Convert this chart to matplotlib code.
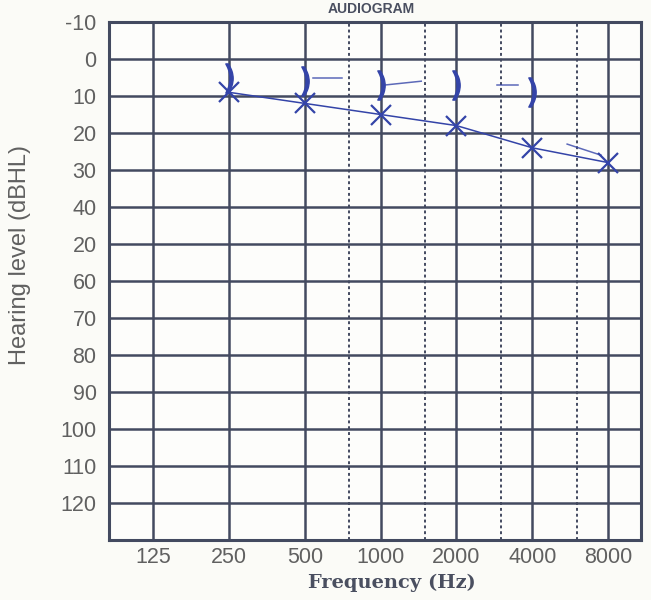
import numpy as np
import matplotlib.pyplot as plt

# audiogram grid
freq_ticks = [125, 250, 500, 1000, 2000, 4000, 8000]
freq_labels = ['125', '250', '500', '1000', '2000', '4000', '8000']
half_octaves = [750, 1500, 3000, 6000]
db_ticks = [-10, 0, 10, 20, 30, 40, 50, 60, 70, 80, 90, 100, 110, 120]
db_labels = ['-10', '0', '10', '20', '30', '40', '20', '60', '70', '80', '90', '100', '110', '120']

# hand-marked thresholds
air_freq = [250, 500, 1000, 2000, 4000, 8000]
air_db = [9, 12, 15, 18, 24, 28]
bone_freq = [250, 500, 1000, 2000, 4000]
bone_db = [5, 6, 7, 7, 9]

# small pen strokes next to the marks
stroke_f0 = [540, 1050, 2900, 5500]
stroke_f1 = [700, 1450, 3500, 7500]
stroke_d0 = [5, 7, 7, 23]
stroke_d1 = [5, 6, 7, 26]

grid_col = '#434a60'
pen = '#3444a8'
txt = '#606060'

fig = plt.figure(figsize=(6.51, 6.0), dpi=100)
fig.patch.set_facecolor('#fbfbf7')
ax = fig.add_axes([109/651, 60/600, 532/651, 518/600])
ax.set_facecolor('#fdfdfb')

ax.set_xscale('log', base=2)
ax.set_xlim(83.6, 10800)
ax.set_ylim(130, -10)

for f in freq_ticks:
    ax.axvline(f, color=grid_col, lw=1.8, zorder=1)
for f in half_octaves:
    ax.axvline(f, color=grid_col, lw=1.4, ls=(0, (1.5, 1.5)), zorder=1)
for d in db_ticks:
    ax.axhline(d, color=grid_col, lw=1.8, zorder=1)
for s in ax.spines.values():
    s.set_color(grid_col)
    s.set_linewidth(2.2)

ax.set_xticks(freq_ticks)
ax.set_xticklabels(freq_labels)
ax.xaxis.set_minor_locator(plt.NullLocator())
ax.set_yticks(db_ticks)
ax.set_yticklabels(db_labels)
ax.tick_params(length=0, labelsize=15.5, labelcolor=txt, pad=5)
ax.tick_params(axis='y', pad=9)
for lab in ax.get_xticklabels() + ax.get_yticklabels():
    lab.set_family('Liberation Sans')

ax.set_xlabel('Frequency (Hz)', fontsize=14, fontweight='bold', family='DejaVu Serif',
              color='#4a4f60')
ax.xaxis.set_label_coords(0.532, -0.066)
ax.set_ylabel('Hearing level (dBHL)', fontsize=17, family='Liberation Sans', color=txt)
ax.yaxis.set_label_coords(-0.147, 0.55)
fig.text(0.57, 1 - 13/600, 'AUDIOGRAM', ha='center', va='baseline', fontsize=10,
         fontweight='bold', color='#4a4f60', family='Liberation Sans')

# pen marks
ax.plot(air_freq, air_db, color=pen, lw=1.1, zorder=3)
ax.plot(air_freq, air_db, ls='none', marker='x', ms=14, mew=1.6, color=pen, zorder=4)
ax.plot(bone_freq, bone_db, ls='none', marker='$)$', ms=21, color=pen, zorder=4)
for f0, f1, d0, d1 in zip(stroke_f0, stroke_f1, stroke_d0, stroke_d1):
    ax.plot([f0, f1], [d0, d1], color=pen, lw=1.1, alpha=0.8, zorder=3)

fig.savefig('out.png', dpi=100, facecolor=fig.get_facecolor())
